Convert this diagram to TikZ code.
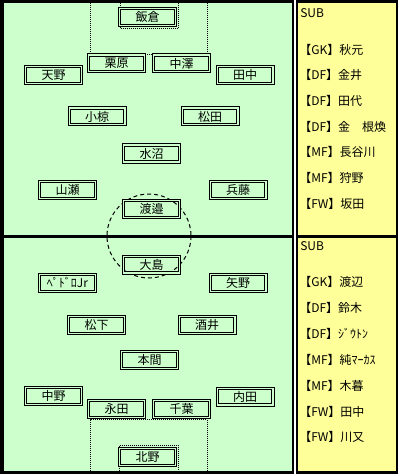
\documentclass[tikz,border=0pt]{standalone}
\usepackage{fontspec}
\usepackage{tikz}
\usepackage{xcolor}
\newfontfamily\jpfont{Noto Sans CJK JP}
\definecolor{pitchgreen}{HTML}{CCFFCC}
\definecolor{benchyellow}{HTML}{FFFF99}
\tikzset{
    player-box/.style = {draw=black, double=pitchgreen, double distance=1pt, line width=0.75pt, rectangle, minimum width=41.75pt, minimum height=12.5pt, inner sep=0pt, font=\jpfont\fontsize{9}{10}\selectfont},
    sub-entry/.style = {anchor=west, inner sep=0pt, font=\jpfont\fontsize{9}{10}\selectfont},
    area-line/.style = {draw=black, line width=0.75pt, dash pattern=on 0.75pt off 0.75pt},
    circle-line/.style = {draw=black, line width=0.75pt, dash pattern=on 3pt off 2.25pt},
}
\begin{document}
\begin{tikzpicture}[x=0.75pt,y=-0.75pt]
\useasboundingbox (0,0) rectangle (400,474);
\fill[white] (0,0) rectangle (400,474);
\fill[black] (0,0) rectangle (294,473.5);
\fill[pitchgreen] (4,3.5) rectangle (292,470.5);
\fill[black] (4,235) rectangle (292,237.5);
\fill[black] (296,0) rectangle (398,473.5);
\fill[benchyellow] (298,3) rectangle (395.7,235);
\fill[benchyellow] (298,237.5) rectangle (395.7,470.7);

\draw[area-line] (90,3.5) |- (207,54.5) -- (207,3.5);
\draw[area-line] (120,3.5) |- (178,29) -- (178,3.5);
\draw[area-line] (90,470.5) |- (207,419.5) -- (207,470.5);
\draw[area-line] (119,470.5) |- (178,445) -- (178,470.5);
\draw[circle-line] (149,236) circle[radius=42];

\node[player-box] (iikura) at (147.5,17) {飯倉};
\node[player-box] (kurihara) at (116.5,63.5) {栗原};
\node[player-box] (nakazawa) at (181.5,63.5) {中澤};
\node[player-box] (amano) at (53.5,75) {天野};
\node[player-box] (tanaka) at (245,75) {田中};
\node[player-box] (ogura) at (97,116.5) {小椋};
\node[player-box] (matsuda) at (210,116.5) {松田};
\node[player-box] (mizunuma) at (151.5,153.5) {水沼};
\node[player-box] (yamase) at (67.5,190) {山瀬};
\node[player-box] (hyodo) at (238,190) {兵藤};
\node[player-box] (watanabe) at (151.5,209) {渡邉};

\node[player-box] (oshima) at (151.5,264.5) {大島};
\node[player-box] (pedro) at (67.5,283) {ﾍﾟﾄﾞﾛJr};
\node[player-box] (yano) at (238,283) {矢野};
\node[player-box] (matsushita) at (96.5,325) {松下};
\node[player-box] (sakai) at (207,325) {酒井};
\node[player-box] (honma) at (149.5,360) {本間};
\node[player-box] (nakano) at (53.5,396) {中野};
\node[player-box] (nagata) at (116.5,409) {永田};
\node[player-box] (chiba) at (181.5,409) {千葉};
\node[player-box] (uchida) at (245,396.5) {内田};
\node[player-box] (kitano) at (147.5,457) {北野};

\node[sub-entry] (sub-top) at (300,13) {SUB};
\node[sub-entry] (sub-top-1) at (299,49.5) {【GK】秋元};
\node[sub-entry] (sub-top-2) at (299,75.3) {【DF】金井};
\node[sub-entry] (sub-top-3) at (299,101) {【DF】田代};
\node[sub-entry] (sub-top-4) at (299,126.7) {【DF】金　根煥};
\node[sub-entry] (sub-top-5) at (299,152.4) {【MF】長谷川};
\node[sub-entry] (sub-top-6) at (299,178) {【MF】狩野};
\node[sub-entry] (sub-top-7) at (299,204) {【FW】坂田};

\node[sub-entry] (sub-bottom) at (300,246) {SUB};
\node[sub-entry] (sub-bottom-1) at (299,282) {【GK】渡辺};
\node[sub-entry] (sub-bottom-2) at (299,308) {【DF】鈴木};
\node[sub-entry] (sub-bottom-3) at (299,334) {【DF】ｼﾞｳﾄﾝ};
\node[sub-entry] (sub-bottom-4) at (299,360) {【MF】純ﾏｰｶｽ};
\node[sub-entry] (sub-bottom-5) at (299,385.5) {【MF】木暮};
\node[sub-entry] (sub-bottom-6) at (299,411.5) {【FW】田中};
\node[sub-entry] (sub-bottom-7) at (299,437) {【FW】川又};
\end{tikzpicture}
\end{document}
